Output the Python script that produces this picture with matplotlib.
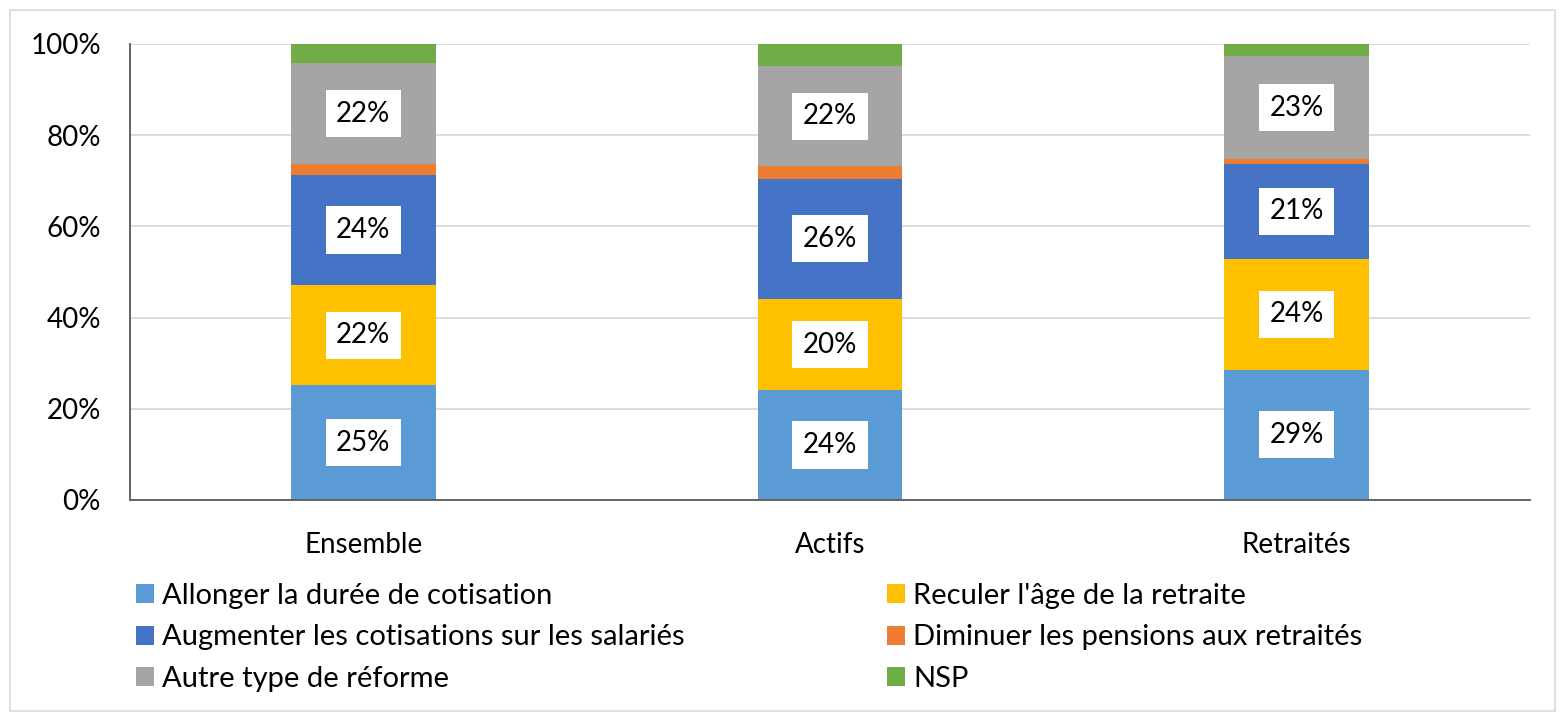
import matplotlib
matplotlib.use("Agg")
import matplotlib.pyplot as plt
from matplotlib.patches import Rectangle
import numpy as np

plt.rcParams['font.family'] = ['Lato', 'DejaVu Sans']

categories = ["Ensemble", "Actifs", "Retraités"]
series_names = [
    "Allonger la durée de cotisation",
    "Reculer l'âge de la retraite",
    "Augmenter les cotisations sur les salariés",
    "Diminuer les pensions aux retraités",
    "Autre type de réforme",
    "NSP",
]
allonger = [25.2, 24.1, 28.6]
reculer = [21.9, 20.0, 24.3]
augmenter = [24.2, 26.3, 20.8]
diminuer = [2.3, 2.8, 1.0]
autre = [22.3, 21.9, 22.7]
nsp = [4.1, 4.9, 2.6]
labeled = [True, True, True, False, True, False]
colors = ["#5b9bd5", "#ffc000", "#4472c4", "#ed7d31", "#a5a5a5", "#70ad47"]

series = [allonger, reculer, augmenter, diminuer, autre, nsp]

FS = 20
LFS = 21

fig = plt.figure(figsize=(15.65, 7.13), dpi=100)
ax = fig.add_axes([130/1565, 213/713, 1400/1565, 456/713])

x = np.arange(len(categories))
bottom = np.zeros(len(categories))
handles = []
for vals, name, col, lab in zip(series, series_names, colors, labeled):
    v = np.array(vals)
    bars = ax.bar(x, v, width=0.31, bottom=bottom, color=col, label=name, zorder=2)
    handles.append(bars)
    if lab:
        for xi, bi, vi in zip(x, bottom, v):
            ax.text(xi, bi + vi / 2, f"{round(vi):d}%", ha='center', va='center',
                    fontsize=FS, color='black', zorder=3,
                    bbox=dict(boxstyle='square,pad=0.38', fc='white', ec='none'))
    bottom = bottom + v

ax.set_xlim(-0.5, 2.5)
ax.set_ylim(0, 100)
ax.set_yticks([0, 20, 40, 60, 80, 100])
ax.set_yticklabels([f"{t}%" for t in [0, 20, 40, 60, 80, 100]], fontsize=FS)
ax.set_xticks(x)
ax.set_xticklabels(categories, fontsize=FS)
ax.tick_params(axis='y', length=0, pad=21)
ax.tick_params(axis='x', length=0, pad=23)
ax.grid(axis='y', color='#d9d9d9', linewidth=1.3, zorder=0)
ax.set_axisbelow(True)
for s in ['top', 'right']:
    ax.spines[s].set_visible(False)
for s in ['left', 'bottom']:
    ax.spines[s].set_color('#595959')
    ax.spines[s].set_linewidth(1.3)

leg_kw = dict(frameon=False, fontsize=LFS, handlelength=0.62, handleheight=0.62,
              handletextpad=0.28, labelspacing=0.53, borderaxespad=0, borderpad=0)
l1 = fig.legend([handles[i] for i in (0, 2, 4)], [series_names[i] for i in (0, 2, 4)],
                loc='upper left', bbox_to_anchor=(136/1565, 1 - 583/713), **leg_kw)
l2 = fig.legend([handles[i] for i in (1, 3, 5)], [series_names[i] for i in (1, 3, 5)],
                loc='upper left', bbox_to_anchor=(887/1565, 1 - 583/713), **leg_kw)

fig.patches.append(Rectangle((10/1565, 2/713), 1545/1565, 701/713, transform=fig.transFigure,
                             fill=False, ec='#d9d9d9', lw=1.2))

fig.savefig("out.png", dpi=100)
